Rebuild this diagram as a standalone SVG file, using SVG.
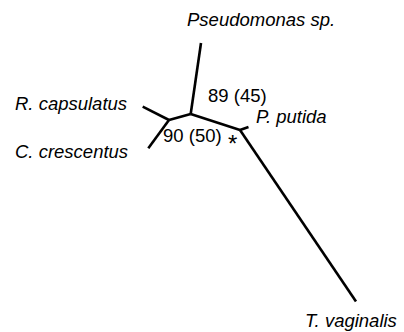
<svg xmlns="http://www.w3.org/2000/svg" width="404" height="332" viewBox="0 0 404 332">
<style>
.t{font-family:"Liberation Sans",Arial,sans-serif;font-size:18.5px;fill:#000}
.i{font-style:italic}
.s{font-family:"Liberation Sans",Arial,sans-serif;font-size:24px;fill:#000}
.e{stroke:#000;stroke-width:2.6;fill:none;stroke-linecap:butt;stroke-linejoin:round}
</style>
<rect width="404" height="332" fill="#fff"/>
<g id="edges">
<path class="e" d="M201,43 L190.7,114"/>
<path class="e" d="M190.7,114 L169,120"/>
<path class="e" d="M142.7,106.7 L169,120"/>
<path class="e" d="M148.3,148.3 L169,120"/>
<path class="e" d="M190.7,114 L240,130"/>
<path class="e" d="M240,130 L248.5,127"/>
<path class="e" d="M240,130 L356,301.5"/>
</g>
<g id="pseudomonas"><text class="t i" x="187" y="26">Pseudomonas sp.</text></g>
<g id="rcapsulatus"><text class="t i" x="15" y="110">R. capsulatus</text></g>
<g id="ccrescentus"><text class="t i" x="15" y="158">C. crescentus</text></g>
<g id="pputida"><text class="t i" x="256" y="123">P. putida</text></g>
<g id="tvaginalis"><text class="t i" x="305" y="327">T. vaginalis</text></g>
<g id="label89"><text class="t" x="208" y="102">89 (45)</text></g>
<g id="label90"><text class="t" x="163" y="142">90 (50)</text><text class="s" x="228" y="152">*</text></g>
</svg>
